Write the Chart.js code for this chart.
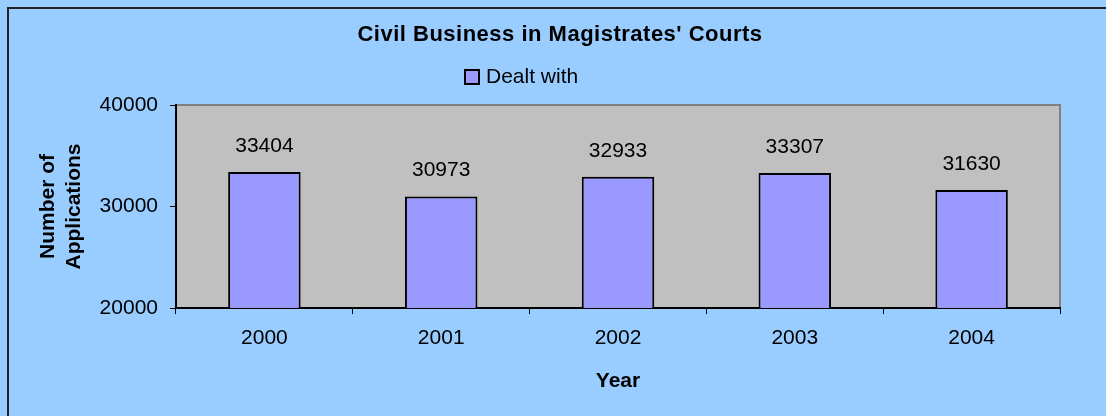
<!DOCTYPE html>
<html>
<head>
<meta charset="utf-8">
<script src="https://cdn.jsdelivr.net/npm/chart.js@4.4.1/dist/chart.umd.min.js"></script>
<style>
  html, body { margin: 0; padding: 0; background: #99CCFF; }
  #wrap { width: 1106px; height: 416px; }
</style>
</head>
<body>
<div id="wrap"><canvas id="chart" width="1106" height="416"></canvas></div>
<script>
// data
const years = ['2000', '2001', '2002', '2003', '2004'];
const dealtWith = [33404, 30973, 32933, 33307, 31630];
const yTicks = [20000, 30000, 40000];

const chartTitle = "Civil Business in Magistrates' Courts";
const seriesName = 'Dealt with';
const FONT = '"Liberation Sans", Arial, sans-serif';

Chart.defaults.font.family = FONT;
Chart.defaults.color = '#000';

// background, frame and grey plot area (Excel style)
const backdrop = {
  id: 'backdrop',
  beforeDraw(chart) {
    const { ctx, chartArea: a } = chart;
    ctx.save();
    ctx.fillStyle = '#99CCFF';
    ctx.fillRect(0, 0, chart.width, chart.height);
    ctx.strokeStyle = '#222';
    ctx.lineWidth = 2;
    ctx.strokeRect(8, 8, chart.width + 20, chart.height + 20);
    ctx.fillStyle = '#C0C0C0';
    ctx.fillRect(a.left, a.top, a.right - a.left, a.bottom - a.top);
    ctx.strokeStyle = '#808080';
    ctx.beginPath();
    ctx.moveTo(a.left, a.top);
    ctx.lineTo(a.right, a.top);
    ctx.lineTo(a.right, a.bottom);
    ctx.stroke();
    ctx.restore();
  }
};

// values above each bar
const barValues = {
  id: 'barValues',
  afterDatasetsDraw(chart) {
    const { ctx } = chart;
    const meta = chart.getDatasetMeta(0);
    ctx.save();
    ctx.font = '21px ' + FONT;
    ctx.fillStyle = '#000';
    ctx.textAlign = 'center';
    ctx.textBaseline = 'middle';
    meta.data.forEach((bar, i) => {
      ctx.fillText(String(chart.data.datasets[0].data[i]), bar.x, bar.y - 26);
    });
    ctx.restore();
  }
};

// title and legend sit where Excel put them, not centred over the plot
const header = {
  id: 'header',
  afterDraw(chart) {
    const { ctx } = chart;
    const ds = chart.data.datasets[0];
    ctx.save();
    ctx.fillStyle = '#000';
    ctx.textBaseline = 'middle';
    ctx.textAlign = 'center';
    ctx.font = 'bold 22px ' + FONT;
    if ('letterSpacing' in ctx) ctx.letterSpacing = '0.5px';
    ctx.fillText(chartTitle, 560, 35);
    if ('letterSpacing' in ctx) ctx.letterSpacing = '0px';

    ctx.fillStyle = ds.backgroundColor;
    ctx.fillRect(465, 70, 14, 14);
    ctx.strokeStyle = '#000';
    ctx.lineWidth = 2;
    ctx.strokeRect(465, 70, 14, 14);
    ctx.fillStyle = '#000';
    ctx.textAlign = 'left';
    ctx.font = '21px ' + FONT;
    ctx.fillText(ds.label, 486, 77);
    ctx.restore();
  }
};

new Chart(document.getElementById('chart'), {
  type: 'bar',
  data: {
    labels: years,
    datasets: [{
      label: seriesName,
      data: dealtWith,
      backgroundColor: '#9999FF',
      borderColor: '#000',
      borderWidth: 2,
      borderSkipped: false,
      barPercentage: 0.41,
      categoryPercentage: 1
    }]
  },
  options: {
    responsive: false,
    animation: false,
    layout: { padding: { left: 8, top: 105, right: 46, bottom: 8 } },
    plugins: {
      legend: { display: false },
      title: { display: false },
      tooltip: { enabled: false }
    },
    scales: {
      x: {
        afterFit(scale) { scale.height = 100; },
        grid: { drawOnChartArea: false, tickLength: 6, color: '#000', lineWidth: 1 },
        border: { display: true, color: '#000', width: 2 },
        ticks: { font: { size: 21 }, padding: 12, color: '#000' },
        title: {
          display: true,
          text: 'Year',
          font: { size: 21, weight: 'bold' },
          padding: { top: 0, bottom: 14 },
          color: '#000'
        }
      },
      y: {
        min: yTicks[0],
        max: yTicks[yTicks.length - 1],
        afterFit(scale) { scale.width = 168; },
        afterBuildTicks(scale) { scale.ticks = yTicks.map(v => ({ value: v })); },
        grid: { drawOnChartArea: false, tickLength: 6, color: '#000', lineWidth: 1 },
        border: { display: true, color: '#000', width: 2 },
        ticks: {
          font: { size: 21 },
          padding: 12,
          color: '#000',
          callback: v => String(v)
        },
        title: {
          display: true,
          text: ['Number of', 'Applications'],
          font: { size: 21, weight: 'bold', lineHeight: 1.25 },
          padding: { top: 27, bottom: 0 },
          color: '#000'
        }
      }
    }
  },
  plugins: [backdrop, barValues, header]
});
</script>
</body>
</html>
